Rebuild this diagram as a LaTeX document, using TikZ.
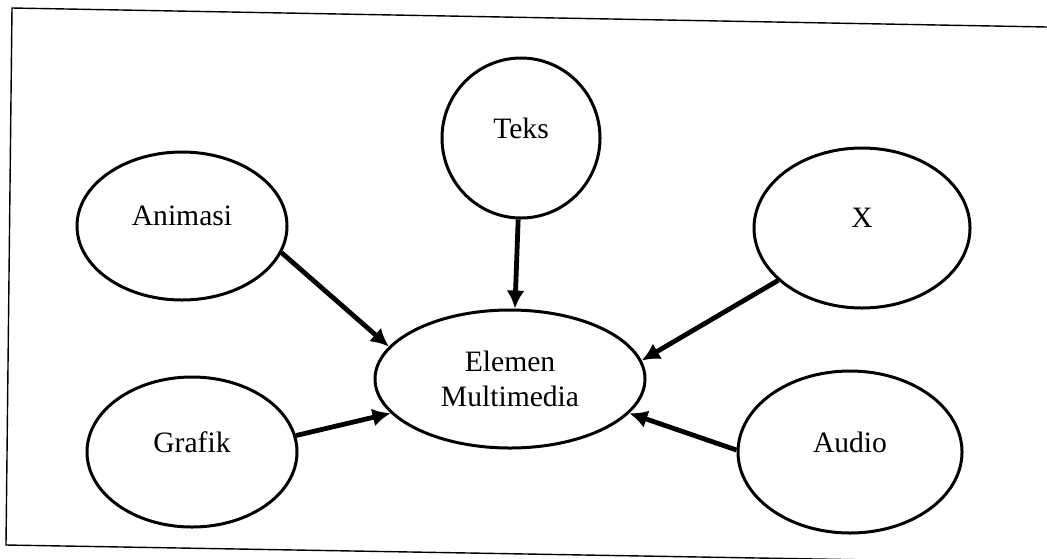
\documentclass[tikz,border=0pt]{standalone}
\usepackage{fontspec}
\setmainfont{Liberation Serif}
\usetikzlibrary{arrows.meta}
\usetikzlibrary{shapes.geometric}
\tikzset{%
  >={Latex[width=9pt,length=9pt]},
  % Specifications for style of nodes:
  base/.style = {ellipse, draw=black, line width=1.5pt, inner sep=0pt,
    text centered, font=\fontsize{14.8}{17.5}\selectfont},
  elem/.style = {base, text depth=10pt},
  link/.style = {->, line width=2.4pt},
}

\begin{document}
\begin{tikzpicture}[x=0.5pt, y=-0.5pt]
        \useasboundingbox (0,0) rectangle (1047,558);
        % Frame of the scan
        \draw[line width=0.7pt] (1047,27) -- (12,8) -- (6,545) -- (1047,563);
        % Specification of nodes (position, etc.)
        \node(EM)[base, align=center, minimum width=135pt, minimum height=69pt] at (510,379) {Elemen \\ Multimedia};
        \node(Teks)[elem, minimum width=79pt, minimum height=80pt] at (521,138) {Teks};
        \node(Anim)[elem, minimum width=105pt, minimum height=74pt] at (182,226) {Animasi};
        \node(Graf)[elem, minimum width=105pt, minimum height=75pt] at (192,452) {Grafik};
        \node(X)[elem, minimum width=108pt, minimum height=80pt] at (862,228) {X};
        \node(Audio)[elem, minimum width=112pt, minimum height=81pt] at (850,452) {Audio};
        % Connectors
        \draw[link](Anim.-15) -- (EM.165);
        \draw[link](Teks.-92) -- (EM.86);
        \draw[link](X.-148) -- (EM.8);
        \draw[link](Graf.9) -- (EM.196);
        \draw[link](Audio.179) -- (EM.-16);
\end{tikzpicture}
\end{document}
